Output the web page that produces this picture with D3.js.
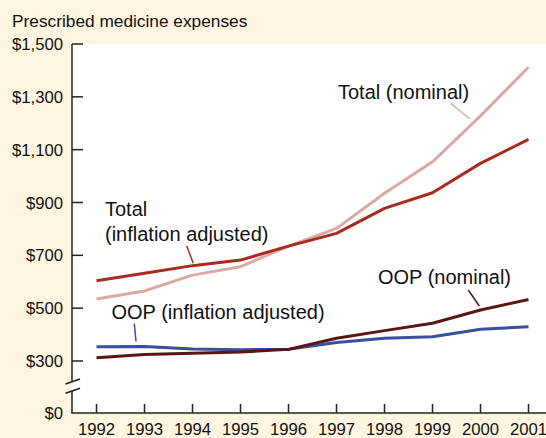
<!DOCTYPE html>
<html>
<head>
<meta charset="utf-8">
<script src="https://cdn.jsdelivr.net/npm/d3@7"></script>
<style>
  html, body { margin: 0; padding: 0; background: #fdf5df; }
  svg { display: block; }
  text { font-family: "Liberation Sans", Arial, sans-serif; fill: #111; }
</style>
</head>
<body>
<div id="chart"></div>
<script>
var YEARS = [1992, 1993, 1994, 1995, 1996, 1997, 1998, 1999, 2000, 2001];
var TOTAL_NOMINAL = [535, 565, 625, 657, 735, 802, 935, 1054, 1228, 1412];
var TOTAL_REAL    = [604, 632, 661, 682, 735, 783, 878, 937, 1048, 1139];
var OOP_NOMINAL   = [312, 325, 329, 334, 344, 386, 415, 443, 493, 533];
var OOP_REAL      = [354, 355, 345, 343, 344, 370, 386, 392, 420, 430];
var Y_TICKS = [0, 300, 500, 700, 900, 1100, 1300, 1500];

var W = 546, H = 438, ml = 72, mt = 44, mb = 25;
var svg = d3.select('#chart').append('svg').attr('width', W).attr('height', H);

svg.append('rect').attr('width', W).attr('height', H).attr('fill', '#fdf5df');
svg.append('rect').attr('x', ml).attr('y', mt).attr('width', W - ml).attr('height', H - mt - mb)
    .attr('fill', '#fff');

var x = d3.scaleLinear().domain([1992, 2001]).range([96.5, 528.5]);
// axis break: 0..300 squeezed into the bottom segment
var y = d3.scaleLinear().domain([0, 300, 1500]).range([413, 361, 44]);

svg.append('text').attr('x', 12).attr('y', 27).attr('font-size', 17.3)
    .text('Prescribed medicine expenses');

// y ticks and labels
Y_TICKS.forEach(function (t) {
    if (t > 0) {
        svg.append('line').attr('x1', ml).attr('x2', ml + 11)
            .attr('y1', y(t)).attr('y2', y(t)).attr('stroke', '#222').attr('stroke-width', 1.5);
    }
    svg.append('text').attr('x', 63).attr('y', y(t) + 6)
        .attr('text-anchor', 'end').attr('font-size', 16.7)
        .text('$' + d3.format(',')(t));
});

// y axis with break
svg.append('line').attr('x1', ml).attr('x2', ml).attr('y1', mt).attr('y2', 381.5)
    .attr('stroke', '#222').attr('stroke-width', 1.5);
svg.append('line').attr('x1', ml).attr('x2', ml).attr('y1', 391).attr('y2', 413)
    .attr('stroke', '#222').attr('stroke-width', 1.5);
[[384, 379], [393.3, 388.3]].forEach(function (b) {
    svg.append('line').attr('x1', 65.5).attr('x2', 80).attr('y1', b[0]).attr('y2', b[1])
        .attr('stroke', '#222').attr('stroke-width', 1.5);
});

// x axis
svg.append('line').attr('x1', ml - 0.75).attr('x2', W).attr('y1', 413).attr('y2', 413)
    .attr('stroke', '#222').attr('stroke-width', 1.5);
YEARS.forEach(function (yr) {
    svg.append('line').attr('x1', x(yr)).attr('x2', x(yr)).attr('y1', 413).attr('y2', 404)
        .attr('stroke', '#222').attr('stroke-width', 1.5);
    svg.append('text').attr('x', x(yr)).attr('y', 434.5).attr('text-anchor', 'middle')
        .attr('font-size', 16.7).text(yr);
});

var line = d3.line().x(function (d, i) { return x(YEARS[i]); }).y(function (d) { return y(d); });
[[TOTAL_NOMINAL, '#d9aaa4'], [TOTAL_REAL, '#a92b20'],
 [OOP_REAL, '#3b4fa0'], [OOP_NOMINAL, '#5a1515']].forEach(function (s) {
    svg.append('path').datum(s[0]).attr('d', line)
        .attr('fill', 'none').attr('stroke', s[1]).attr('stroke-width', 3)
        .attr('stroke-linejoin', 'round');
});

// labels with leader lines
var LABELS = [
    [['Total (nominal)'], 338, 99, [450.7, 103.3, 470, 119], '#d9aaa4'],
    [['Total', '(inflation adjusted)'], 105, 215.5, [186.7, 246, 193.3, 263.3], '#a92b20'],
    [['OOP (nominal)'], 378, 284, [468.3, 290, 479.3, 306], '#5a1515'],
    [['OOP (inflation adjusted)'], 111.5, 319, [134.3, 323.5, 136, 341.5], '#3b4fa0']
];
LABELS.forEach(function (L) {
    L[0].forEach(function (s, i) {
        svg.append('text').attr('x', L[1]).attr('y', L[2] + i * 25.5)
            .attr('font-size', 20).text(s);
    });
    svg.append('line').attr('x1', L[3][0]).attr('y1', L[3][1]).attr('x2', L[3][2]).attr('y2', L[3][3])
        .attr('stroke', L[4]).attr('stroke-width', 1.5);
});
</script>
</body>
</html>
